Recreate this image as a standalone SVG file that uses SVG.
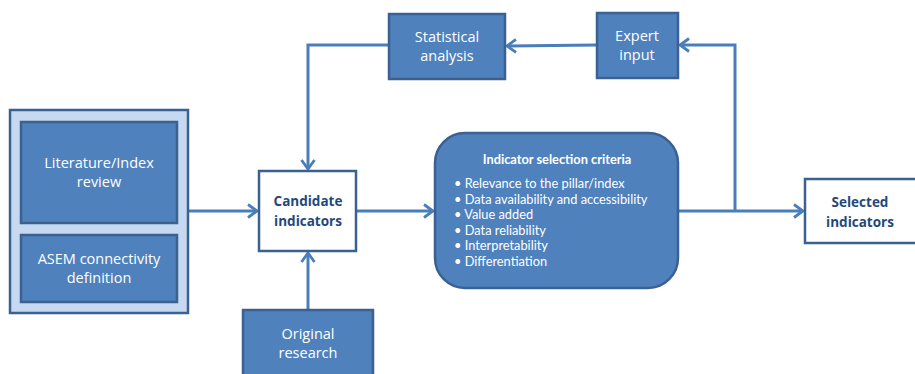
<svg xmlns="http://www.w3.org/2000/svg" width="915" height="374" viewBox="0 0 915 374">
<defs>
<style>
.blue{fill:#4f81bd;stroke:#3a6191;stroke-width:2.5}
.white{fill:#ffffff;stroke:#3a6191;stroke-width:2.5}
.outer{fill:#c6d9f1;stroke:#3a6191;stroke-width:2.5}
.lbl{font-family:"Open Sans","Liberation Sans",sans-serif;font-size:14.5px;fill:#ffffff;text-anchor:middle}
.dark{font-family:"Open Sans","Liberation Sans",sans-serif;font-size:13.5px;font-weight:bold;fill:#1f497d;text-anchor:middle}
.crit{font-family:Lato,"Liberation Sans",sans-serif;font-size:12.8px;fill:#ffffff}
.conn{fill:none;stroke:#4a7ebb;stroke-width:3}
</style>
<marker id="arr" markerUnits="userSpaceOnUse" markerWidth="14" markerHeight="16" refX="11" refY="8" orient="auto">
<path d="M2,1.5 L11,8 L2,14.5" fill="none" stroke="#4a7ebb" stroke-width="2.8"/>
</marker>
</defs>
<g id="connectors">
<path class="conn" d="M188,211 L257,211" marker-end="url(#arr)"/>
<path class="conn" d="M356,211 L433,211" marker-end="url(#arr)"/>
<path class="conn" d="M308,310 L308,253" marker-end="url(#arr)"/>
<path class="conn" d="M389,45 L308,45 L308,169" marker-end="url(#arr)"/>
<path class="conn" d="M597,45 L507,46" marker-end="url(#arr)"/>
<path class="conn" d="M678,211 L803,211" marker-end="url(#arr)"/>
<path class="conn" d="M735,211 L735,45 L680,45" marker-end="url(#arr)"/>
</g>
<g id="sources">
<rect class="outer" x="10" y="110" width="178" height="203"/>
</g>
<g id="literature">
<rect class="blue" x="21" y="122" width="156" height="101"/>
<text class="lbl" x="99" y="168">Literature/Index</text>
<text class="lbl" x="99" y="187">review</text>
</g>
<g id="asem">
<rect class="blue" x="21" y="235" width="156" height="67"/>
<text class="lbl" x="99" y="264">ASEM connectivity</text>
<text class="lbl" x="99" y="283">definition</text>
</g>
<g id="candidate">
<rect class="white" x="259" y="171" width="97" height="80"/>
<text class="dark" x="308" y="206">Candidate</text>
<text class="dark" x="308" y="226">indicators</text>
</g>
<g id="original">
<rect class="blue" x="243" y="310" width="130" height="70"/>
<text class="lbl" x="308" y="339">Original</text>
<text class="lbl" x="308" y="358">research</text>
</g>
<g id="statistical">
<rect class="blue" x="389" y="14" width="116" height="65"/>
<text class="lbl" x="447" y="42">Statistical</text>
<text class="lbl" x="447" y="61">analysis</text>
</g>
<g id="expert">
<rect class="blue" x="597" y="13" width="81" height="65"/>
<text class="lbl" x="637" y="41">Expert</text>
<text class="lbl" x="637" y="60">input</text>
</g>
<g id="criteria">
<rect class="blue" x="435" y="133" width="243" height="155" rx="30" ry="30"/>
<text class="crit" x="557" y="164" text-anchor="middle" font-weight="bold">Indicator selection criteria</text>
<text class="crit" x="454" y="188">•  Relevance to the pillar/index</text>
<text class="crit" x="454" y="204">•  Data availability and accessibility</text>
<text class="crit" x="454" y="219">•  Value added</text>
<text class="crit" x="454" y="235">•  Data reliability</text>
<text class="crit" x="454" y="250">•  Interpretability</text>
<text class="crit" x="454" y="266">•  Differentiation</text>
</g>
<g id="selected">
<rect class="white" x="805" y="179" width="120" height="64"/>
<text class="dark" x="860" y="207">Selected</text>
<text class="dark" x="860" y="227">indicators</text>
</g>
</svg>
